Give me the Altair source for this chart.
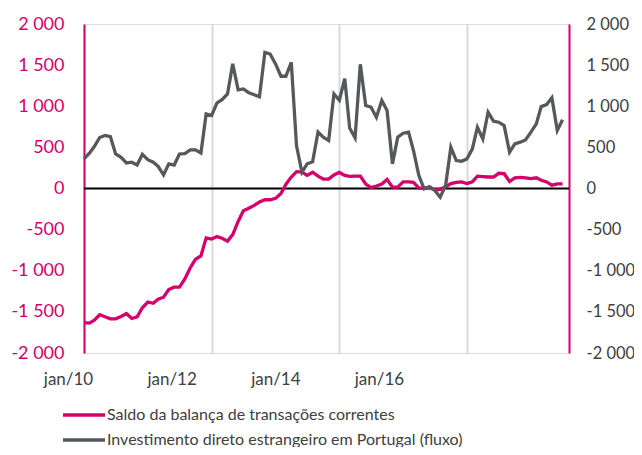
import altair as alt
import pandas as pd

# ---- data (monthly, jan/2010 .. jul/2017) ----
months = pd.date_range("2010-01-01", periods=91, freq="MS").strftime("%Y-%m-%d").tolist()

series_names = [
    "Saldo da balança de transações correntes",
    "Investimento direto estrangeiro em Portugal (fluxo)",
]

saldo = [
    -1630, -1636, -1600, -1535, -1560, -1584, -1584, -1555, -1520, -1580, -1560, -1450,
    -1380, -1395, -1345, -1322, -1230, -1199, -1199, -1100, -965, -860, -820, -600,
    -615, -585, -605, -640, -560, -400, -270, -240, -205, -165, -137, -137,
    -120, -60, 50, 140, 205, 200, 160, 198, 150, 115, 115, 165,
    195, 160, 148, 150, 150, 55, 10, 30, 55, 110, 16, 16,
    80, 80, 75, 5, 5, 10, -15, -10, 20, 60, 75, 80,
    60, 80, 150, 145, 140, 140, 185, 180, 85, 130, 135, 130,
    120, 130, 100, 80, 40, 57, 57,
]

ide = [
    360, 430, 510, 620, 645, 630, 420, 380, 310, 320, 285, 415,
    350, 320, 270, 165, 300, 285, 420, 425, 470, 470, 430, 907,
    887, 1040, 1080, 1150, 1515, 1200, 1210, 1165, 1140, 1115, 1655, 1635,
    1515, 1365, 1365, 1535, 520, 198, 300, 325, 685, 623, 583, 1150,
    1073, 1335, 735, 615, 1510, 1008, 988, 866, 1069, 948, 300, 623,
    672, 685, 462, 158, -4, 24, -24, -105, 36, 502, 340, 332,
    360, 482, 745, 603, 927, 818, 806, 765, 441, 543, 563, 591,
    685, 786, 996, 1020, 1102, 705, 835,
]

y_ticks = [-2000, -1500, -1000, -500, 0, 500, 1000, 1500, 2000]
x_tick_dates = ["2010-01-01", "2012-01-01", "2014-01-01", "2016-01-01"]
x_domain = ["2010-01-01", "2017-08-07"]

PINK = "#d4006c"
GRAY = "#55595c"
TXT = "#404040"
FONT = "Lato"

df_s = pd.DataFrame({"date": months, "value": saldo, "serie": series_names[0]})
df_i = pd.DataFrame({"date": months, "value": ide, "serie": series_names[1]})
df_zero = pd.DataFrame({"zero": [0]})


def ms(d):
    return int(pd.Timestamp(d, tz="UTC").value // 10**6)


x_scale = alt.Scale(type="utc", domain=[ms(d) for d in x_domain], nice=False)
y_scale = alt.Scale(domain=[-2000, 2000], nice=False, zero=False)

label_expr_y = "(datum.value < 0 ? '-' : '') + replace(format(abs(datum.value), ','), ',', ' ')"

x_enc = alt.X(
    "date:T",
    scale=x_scale,
    axis=alt.Axis(
        values=[ms(d) for d in x_tick_dates],
        labelExpr="'jan/' + utcFormat(datum.value, '%y')",
        title=None,
        domain=False,
        ticks=False,
        grid=True,
        gridColor="#d9d9d9",
        gridWidth=2,
        labelFont=FONT,
        labelFontSize=17,
        labelColor=TXT,
        labelPadding=18,
        labelOffset={"expr": "-16 - 12*(utcyear(datum.value) - 2010)"},
        labelFlush=False,
        labelOverlap=False,
    ),
)

color_enc = alt.Color(
    "serie:N",
    scale=alt.Scale(domain=series_names, range=[PINK, GRAY]),
    legend=alt.Legend(
        title=None,
        orient="none",
        legendX=-9,
        legendY=382,
        direction="vertical",
        symbolType="M-3,0H3",
        symbolSize=196,
        symbolStrokeWidth=3.5,
        labelFont=FONT,
        labelFontSize=16,
        labelColor=TXT,
        labelOffset=14,
        rowPadding=8,
        padding=0,
        labelLimit=500,
    ),
)

zero = alt.Chart(df_zero).mark_rule(color="black", strokeWidth=2).encode(
    y=alt.Y("zero:Q", scale=y_scale, axis=None)
)

left_axis = alt.Axis(
    orient="left",
    values=y_ticks,
    labelExpr=label_expr_y,
    title=None,
    grid=False,
    ticks=False,
    domainColor=PINK,
    domainWidth=2,
    labelColor=PINK,
    labelFont=FONT,
    labelFontSize=18,
    labelPadding=20,
)

right_axis = alt.Axis(
    orient="right",
    values=y_ticks,
    labelExpr=label_expr_y,
    title=None,
    grid=False,
    ticks=False,
    domainColor=PINK,
    domainWidth=2,
    labelColor=TXT,
    labelFont=FONT,
    labelFontSize=16.5,
    labelPadding=17,
)

pink_line = alt.Chart(df_s).mark_line(strokeWidth=3.3).encode(
    x=x_enc,
    y=alt.Y("value:Q", scale=y_scale, axis=left_axis),
    color=color_enc,
)

gray_line = alt.Chart(df_i).mark_line(strokeWidth=3.3).encode(
    x=x_enc,
    y=alt.Y("value:Q", scale=y_scale, axis=right_axis),
    color=color_enc,
)

chart = (
    alt.layer(zero, pink_line, gray_line)
    .resolve_scale(y="independent")
    .properties(
        width=485,
        height=329,
        padding={"left": 76, "top": 16, "right": 65, "bottom": 94},
        autosize=alt.AutoSizeParams(type="none"),
    )
    .configure_view(stroke=None)
    .configure(background="white")
)

chart.save("out.html", embed_options={"renderer": "svg", "actions": False})
